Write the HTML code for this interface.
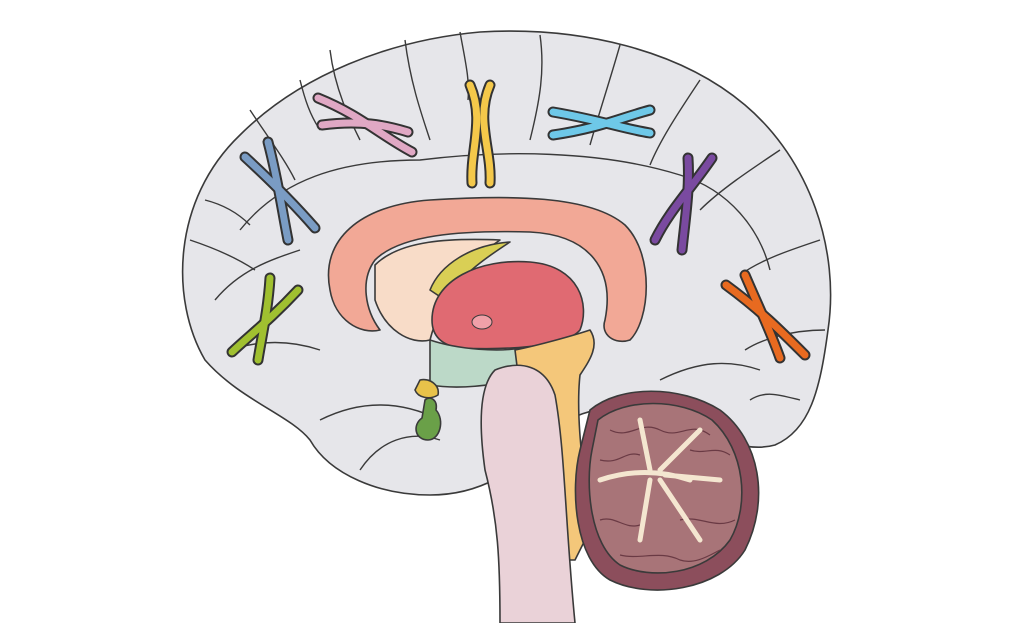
<!DOCTYPE html>
<html><head><meta charset="utf-8"><style>html,body{margin:0;padding:0;background:#fff;width:1024px;height:623px;overflow:hidden}</style></head>
<body>
<svg width="1024" height="623" viewBox="0 0 1024 623" xmlns="http://www.w3.org/2000/svg">
<g stroke="#3a3a3a" stroke-width="1.6" stroke-linejoin="round">
<!-- brain -->
<path fill="#e6e6ea" d="M205,360 C170,300 172,200 240,135 C300,75 390,40 480,32 C580,26 680,50 745,105 C810,160 840,250 828,330 C820,390 810,430 775,445 C740,455 700,430 640,410 C600,400 560,420 540,440 C520,470 480,495 430,495 C380,495 330,475 310,440 C290,415 240,400 205,360 Z"/>
<!-- gyri lines -->
<g fill="none" stroke-width="1.4">
<path d="M240,230 C280,180 340,160 420,160 C500,150 600,150 680,175 C730,190 760,230 770,270"/>
<path d="M215,300 C240,270 270,260 300,250"/>
<path d="M330,50 C335,90 350,120 360,140"/>
<path d="M405,40 C410,80 420,110 430,140"/>
<path d="M540,35 C545,70 540,100 530,140"/>
<path d="M620,45 C610,80 600,110 590,145"/>
<path d="M700,80 C680,110 660,140 650,165"/>
<path d="M780,150 C750,170 720,190 700,210"/>
<path d="M820,240 C790,250 760,260 740,275"/>
<path d="M825,330 C790,330 760,340 745,350"/>
<path d="M250,110 C270,140 285,160 295,180"/>
<path d="M190,240 C220,250 240,260 255,270"/>
<path d="M320,420 C360,400 400,400 440,420"/>
<path d="M360,470 C380,440 410,430 440,440"/>
<path d="M660,380 C700,360 730,360 760,370"/>
<path d="M205,200 C225,205 240,215 250,225"/>
<path d="M300,80 C305,100 310,115 320,130"/>
<path d="M460,32 C465,60 470,80 468,100"/>
<path d="M800,400 C780,395 765,390 750,400"/>
<path d="M230,350 C260,340 290,340 320,350"/>
</g>
<!-- corpus callosum -->
<path fill="#f2a896" d="M330,290 C320,240 360,205 430,200 C510,195 590,195 625,225 C655,255 650,320 630,340 C615,345 600,335 605,320 C615,270 590,235 530,232 C460,230 400,235 375,260 C360,280 365,310 380,330 C360,335 335,320 330,290 Z"/>
<path fill="#f8dcc8" d="M375,265 C400,240 450,238 500,240 C470,260 440,300 430,340 C410,345 385,330 375,300 Z"/>
<path fill="#d9cf55" d="M430,290 C440,265 470,245 510,242 C490,255 460,275 445,300 Z"/>
<!-- thalamus -->
<path fill="#e06a72" d="M432,320 C432,280 480,258 530,262 C580,266 590,305 580,330 C565,348 500,350 460,348 C440,345 432,335 432,320 Z"/>
<ellipse cx="482" cy="322" rx="10" ry="7" fill="#f0a0a8" stroke-width="1"/>
<!-- hypothalamus -->
<path fill="#bcd9c8" d="M430,340 C460,350 500,352 520,348 L520,380 C490,385 460,390 430,385 Z"/>
<path fill="#e8c24a" d="M420,380 C430,378 440,385 438,395 C430,400 418,398 415,390 Z"/>
<path fill="#6aa048" d="M425,400 C430,395 438,400 436,410 C445,420 440,440 428,440 C415,440 412,425 422,418 Z"/>
<!-- brainstem -->
<path fill="#f4c77a" d="M515,350 C540,345 575,335 590,330 C600,345 590,360 580,375 C575,420 585,480 590,530 L575,560 L560,560 C555,500 545,440 520,390 Z"/>
<path fill="#ead2d8" d="M495,370 C520,360 545,365 555,395 C565,450 565,520 575,623 L500,623 C500,560 498,520 485,470 C478,420 480,385 495,370 Z"/>
<!-- cerebellum -->
<path fill="#8c4e5c" d="M590,410 C620,385 680,385 720,410 C760,440 770,500 745,550 C720,590 650,600 610,580 C575,560 570,490 580,450 Z"/>
<path fill="#a87478" d="M598,420 C625,398 680,398 712,420 C745,450 750,505 730,540 C705,575 650,580 620,565 C590,545 585,485 592,450 Z"/>
<g fill="none" stroke="#6a3a44" stroke-width="1.2">
<path d="M610,430 C630,440 640,420 660,430 C680,440 690,420 710,435"/>
<path d="M600,460 C620,465 625,450 640,455"/>
<path d="M690,450 C705,455 715,445 730,455"/>
<path d="M600,520 C615,515 625,530 640,525"/>
<path d="M680,520 C700,515 715,530 735,520"/>
<path d="M620,555 C640,560 660,550 680,560 C695,565 710,555 720,550"/>
</g>
<path fill="none" stroke="#f4e6d0" stroke-width="5" stroke-linecap="round" d="M600,480 C630,470 660,470 690,480 M650,470 L640,420 M660,470 L700,430 M665,475 L720,480 M650,480 L640,540 M660,480 L700,540"/>
</g>
<!-- chromosomes -->
<g fill="none" stroke-linecap="round">
<g stroke="#333" stroke-width="11">
<path d="M318,98 C360,115 380,135 412,152"/><path d="M322,125 C360,120 385,125 408,132"/>
<path d="M470,85 C485,120 470,150 472,183"/><path d="M490,85 C475,120 492,150 490,183"/>
<path d="M553,112 C600,120 620,128 650,133"/><path d="M553,135 C600,128 620,118 650,110"/>
<path d="M712,158 C690,190 670,210 655,240"/><path d="M688,158 C690,190 685,220 682,250"/>
<path d="M726,285 C760,310 780,330 805,355"/><path d="M745,275 C760,310 770,330 780,358"/>
<path d="M298,290 C270,320 250,335 232,352"/><path d="M270,278 C268,310 262,335 258,360"/>
<path d="M245,157 C270,180 295,205 315,228"/><path d="M268,142 C278,180 282,210 288,240"/>
</g>
<g stroke-width="7">
<path stroke="#e0a8c4" d="M318,98 C360,115 380,135 412,152"/><path stroke="#e0a8c4" d="M322,125 C360,120 385,125 408,132"/>
<path stroke="#f4c84a" d="M470,85 C485,120 470,150 472,183"/><path stroke="#f4c84a" d="M490,85 C475,120 492,150 490,183"/>
<path stroke="#6ec8e8" d="M553,112 C600,120 620,128 650,133"/><path stroke="#6ec8e8" d="M553,135 C600,128 620,118 650,110"/>
<path stroke="#7a4aa0" d="M712,158 C690,190 670,210 655,240"/><path stroke="#7a4aa0" d="M688,158 C690,190 685,220 682,250"/>
<path stroke="#e86a20" d="M726,285 C760,310 780,330 805,355"/><path stroke="#e86a20" d="M745,275 C760,310 770,330 780,358"/>
<path stroke="#a0c030" d="M298,290 C270,320 250,335 232,352"/><path stroke="#a0c030" d="M270,278 C268,310 262,335 258,360"/>
<path stroke="#7a9cc4" d="M245,157 C270,180 295,205 315,228"/><path stroke="#7a9cc4" d="M268,142 C278,180 282,210 288,240"/>
</g>
</g>
</svg>
</body></html>
